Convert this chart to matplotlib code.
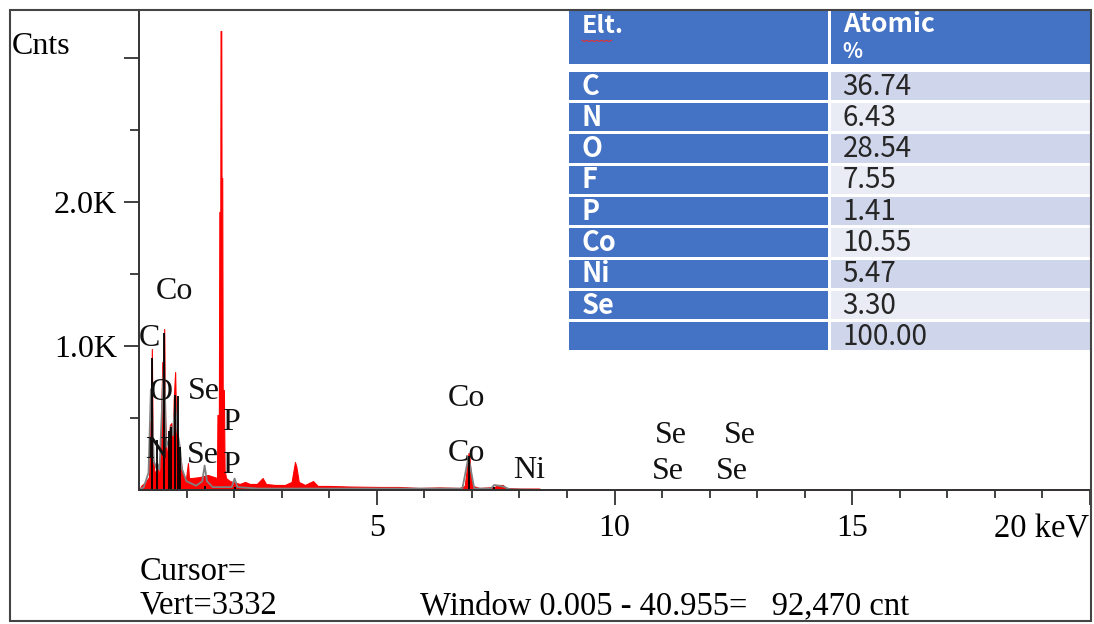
import matplotlib.pyplot as plt
import numpy as np
from matplotlib.patches import Rectangle

spec_kev = [0.00, 0.05, 0.15, 0.21, 0.23, 0.25, 0.27, 0.29, 0.32, 0.36, 0.39, 0.42,
            0.45, 0.49, 0.51, 0.53, 0.55, 0.59, 0.62, 0.65, 0.68, 0.71, 0.73, 0.76,
            0.78, 0.81, 0.84, 0.87, 0.90, 0.95, 0.99, 1.03, 1.05, 1.11, 1.28, 1.45,
            1.58, 1.64, 1.65, 1.68, 1.69, 1.71, 1.715, 1.73, 1.735, 1.75, 1.76, 1.785,
            1.80, 1.83, 1.91, 2.12, 2.23, 2.33, 2.48, 2.60, 2.67, 2.86, 3.07, 3.21,
            3.28, 3.31, 3.36, 3.49, 3.66, 3.76, 4.01, 4.43, 5.06, 5.48, 5.90, 6.32,
            6.74, 6.85, 6.89, 6.93, 6.95, 6.98, 7.02, 7.16, 7.48, 7.54, 7.65, 7.72,
            8.00, 8.42, 8.46, 20.0]
spec_cnt = [0, 30, 60, 90, 479, 347, 979, 243, 139, 104, 160, 83,
            243, 889, 625, 1118, 486, 194, 347, 451, 465, 347, 625, 819,
            486, 312, 174, 229, 139, 83, 83, 187, 83, 83, 90, 104,
            90, 83, 521, 521, 1930, 1930, 3186, 3186, 2166, 2166, 694, 694,
            139, 83, 62, 42, 56, 42, 42, 83, 42, 35, 35, 56,
            194, 160, 56, 35, 62, 28, 28, 24, 21, 21, 14, 18,
            14, 28, 139, 257, 236, 83, 28, 14, 21, 35, 35, 14,
            10, 10, 0, 0]

# fitted spectrum (grey outline)
fit_kev = [0.00, 0.10, 0.20, 0.25, 0.27, 0.31, 0.37, 0.39, 0.43, 0.50, 0.53, 0.57,
           0.63, 0.67, 0.71, 0.76, 0.80, 0.86, 0.90, 1.00, 1.20, 1.33, 1.38, 1.43,
           1.55, 1.95, 2.01, 2.07, 2.50, 6.80, 6.93, 7.05, 7.40, 7.47, 7.65, 7.80, 8.50]
fit_cnt = [0, 20, 120, 700, 650, 200, 150, 180, 140, 700, 900, 300,
           350, 440, 380, 600, 420, 300, 150, 60, 30, 60, 170, 60,
           20, 20, 80, 20, 10, 10, 230, 10, 10, 35, 25, 5, 0]

# element line markers (black)
mark_kev = [0.27, 0.38, 0.52, 0.63, 0.68, 0.76, 0.81, 0.87, 1.38, 2.01, 6.93, 7.47]
mark_cnt = [914, 345, 1090, 410, 437, 660, 650, 300, 30, 20, 236, 20]

# peak labels
lab_txt = ['Co', 'C', 'O', 'Se', 'P', 'N', 'Se', 'P', 'Co', 'Co', 'Ni', 'Se', 'Se', 'Se', 'Se']
lab_kev = [0.74, 0.23, 0.46, 1.37, 1.93, 0.38, 1.34, 1.93, 6.89, 6.89, 8.21, 11.18, 12.63, 11.13, 12.46]
lab_cnt = [1375, 1052, 674, 687, 467, 275, 241, 172, 632, 254, 137, 378, 378, 131, 131]

# quantification table
elements = ['C', 'N', 'O', 'F', 'P', 'Co', 'Ni', 'Se', '']
atomic = ['36.74', '6.43', '28.54', '7.55', '1.41', '10.55', '5.47', '3.30', '100.00']

W, H = 1094, 624
plt.rcParams['font.family'] = ['Liberation Serif', 'DejaVu Serif']
fig = plt.figure(figsize=(W / 100, H / 100), dpi=100)


def fx(px):
    return px / W


def fy(py):
    return 1 - py / H


# outer frame
fig.add_artist(Rectangle((fx(10), fy(621)), fx(1091) - fx(10), fy(10) - fy(621),
                         transform=fig.transFigure, fill=False, lw=1.5, ec='#444444'))

ax = fig.add_axes([fx(139), fy(490), fx(1090) - fx(139), fy(10) - fy(490)])
ax.fill_between(spec_kev, spec_cnt, 0, color='#ff0000', lw=0.8, ec='#ff0000')
ax.plot(fit_kev, fit_cnt, color='#808080', lw=1.3)
ax.vlines(mark_kev, 0, mark_cnt, color='black', lw=1.3)

for t, x, y in zip(lab_txt, lab_kev, lab_cnt):
    ax.text(x, y, t, ha='center', va='center', size=23, color='#111111')

ax.set_xlim(0, 20)
ax.set_ylim(0, 3332)
ax.spines['top'].set_visible(False)
ax.spines['right'].set_visible(False)
for s in ['left', 'bottom']:
    ax.spines[s].set_color('#333333')
    ax.spines[s].set_linewidth(1.4)

ax.set_xticks([5, 10, 15, 20], ['5', '10', '15', ''])
ax.set_xticks([k for k in range(1, 20) if k % 5], minor=True)
ax.set_yticks([1000, 2000, 3000], ['1.0K', '2.0K', ''])
ax.set_yticks([500, 1500, 2500], minor=True)
ax.tick_params(which='both', direction='out', color='#333333', width=1.3, labelsize=23)
ax.tick_params(axis='x', which='major', length=11, pad=6)
ax.tick_params(axis='x', which='minor', length=6)
ax.tick_params(axis='y', which='major', length=11, pad=5)
ax.tick_params(axis='y', which='minor', length=6.5)

fig.text(fx(12), fy(54), 'Cnts', size=23, va='baseline')
fig.text(fx(1089), fy(537), '20 keV', size=23.5, ha='right', va='baseline')
fig.text(fx(140), fy(580), 'Cursor=', size=23.5, va='baseline')
fig.text(fx(140), fy(614), 'Vert=3332', size=23.5, va='baseline')
fig.text(fx(420), fy(614), 'Window 0.005 - 40.955=   92,470 cnt', size=23.5, va='baseline')

# table drawn in its own axes, units: column width = 1, row height = 1
tab = fig.add_axes([fx(567), fy(352), fx(1092) - fx(567), fy(9) - fy(352)])
tab.set_xlim(0, 2)
head_h, gap_h = 1.8, 0.16
n = len(elements)
tab.set_ylim(head_h + gap_h + n, 0)
tab.axis('off')
blue = '#4472c4'
shades = ['#cfd5ea', '#e9ebf5']
tfont = ['Liberation Sans Narrow', 'Noto Sans CJK SC', 'DejaVu Sans']
gx, gy = 0.015, 0.1

for c in range(2):
    tab.add_patch(Rectangle((c + gx / 2, gy / 2), 1 - gx, head_h - gy, fc=blue, ec='none'))
tab.text(0.057, 0.55, 'Elt.', color='white', size=18, weight='bold', va='center', family=tfont)
tab.plot(np.linspace(0.057, 0.17, 13), 1.0 + 0.04 * (np.arange(13) % 2), color='#e03030', lw=0.8)
tab.text(1.05, 0.5, 'Atomic', color='white', size=19, weight='bold', va='center', family=tfont)
tab.text(1.05, 1.35, '%', color='white', size=15, weight='bold', va='center', family=tfont)

for i, (e, v) in enumerate(zip(elements, atomic)):
    y0 = head_h + gap_h + i
    tab.add_patch(Rectangle((gx / 2, y0 + gy / 2), 1 - gx, 1 - gy, fc=blue, ec='none'))
    tab.add_patch(Rectangle((1 + gx / 2, y0 + gy / 2), 1 - gx, 1 - gy, fc=shades[i % 2], ec='none'))
    tab.text(0.057, y0 + 0.52, e, color='white', size=19.5, weight='bold', va='center', family=tfont)
    tab.text(1.05, y0 + 0.52, v, color='#262626', size=20, va='center', family=tfont)

fig.savefig('out.png', dpi=100)
